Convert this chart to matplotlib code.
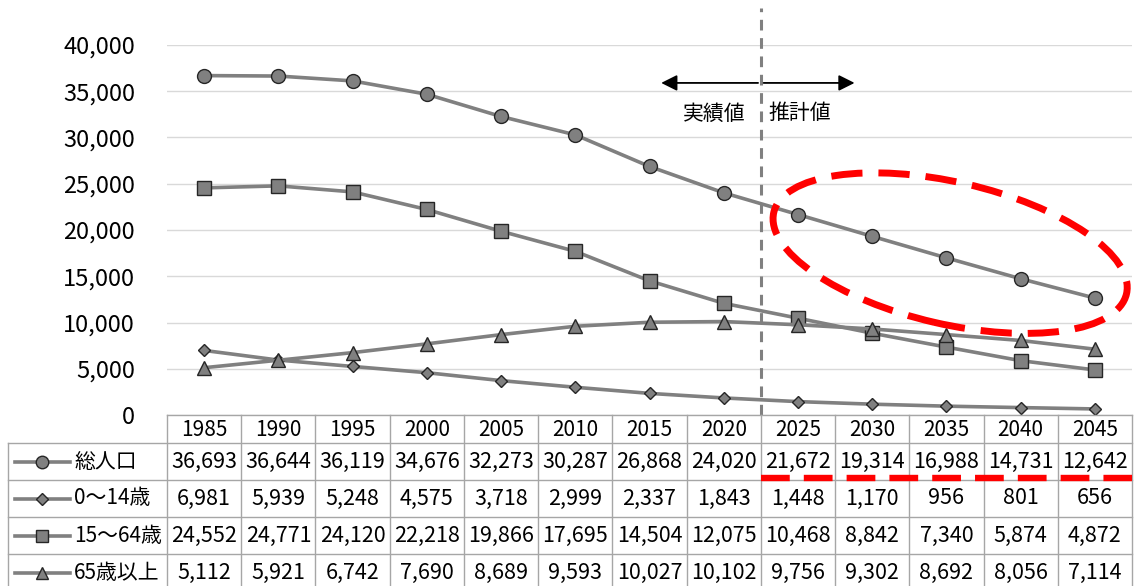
import numpy as np
import matplotlib
matplotlib.use('Agg')
import matplotlib.pyplot as plt
from matplotlib.patches import Ellipse
from matplotlib.transforms import blended_transform_factory

plt.rcParams['font.family'] = ['Liberation Sans Narrow', 'Noto Sans CJK JP', 'DejaVu Sans']

# ── data ──────────────────────────────────────────────────────────────
YEARS = [1985, 1990, 1995, 2000, 2005, 2010, 2015, 2020, 2025, 2030, 2035, 2040, 2045]
NAMES = ['総人口', '0～14歳', '15～64歳', '65歳以上']
TOTAL = [36693, 36644, 36119, 34676, 32273, 30287, 26868, 24020, 21672, 19314, 16988, 14731, 12642]
AGE_0_14 = [6981, 5939, 5248, 4575, 3718, 2999, 2337, 1843, 1448, 1170, 956, 801, 656]
AGE_15_64 = [24552, 24771, 24120, 22218, 19866, 17695, 14504, 12075, 10468, 8842, 7340, 5874, 4872]
AGE_65 = [5112, 5921, 6742, 7690, 8689, 9593, 10027, 10102, 9756, 9302, 8692, 8056, 7114]
Y_TICKS = [0, 5000, 10000, 15000, 20000, 25000, 30000, 35000, 40000]

SERIES = [TOTAL, AGE_0_14, AGE_15_64, AGE_65]
MARKERS = [('o', 10), ('D', 6.5), ('s', 9.5), ('^', 9.5)]
GRAY = '#808080'
EDGE = '#262626'

W, H = 1144, 586
fig = plt.figure(figsize=(W / 100, H / 100), dpi=100)

# main axes
ax = fig.add_axes([167 / W, (H - 415) / H, 965 / W, 370 / H])
# overlay in pixel units (origin bottom-left)
ov = fig.add_axes([0, 0, 1, 1])
ov.set_xlim(0, W)
ov.set_ylim(0, H)
ov.axis('off')
ov.set_zorder(5)

x = np.arange(len(YEARS))
for vals, (mk, ms) in zip(SERIES, MARKERS):
    ax.plot(x, vals, color=GRAY, lw=2.6, marker=mk, markersize=ms,
            markerfacecolor=GRAY, markeredgecolor=EDGE, markeredgewidth=1.0, zorder=3)

ax.set_xlim(-0.5, len(YEARS) - 0.5)
ax.set_ylim(0, 40000)
ax.set_yticks(Y_TICKS)
ax.set_yticklabels([f'{v:,}' for v in Y_TICKS])
ax.set_xticks([])
ax.tick_params(axis='y', length=0, pad=23, labelsize=17)
ax.grid(axis='y', color='#d9d9d9', lw=1.0)
ax.set_axisbelow(True)
for s in ax.spines.values():
    s.set_visible(False)

# actual / projection divider
split = 7.5
ax.plot([split, split], [0, 44000], color=GRAY, lw=2.2, ls=(0, (3.5, 2.5)),
        clip_on=False, zorder=2)
ax.annotate('', xy=(6.12, 35900), xytext=(split, 35900),
            arrowprops=dict(arrowstyle='-|>', color='black', lw=1.3, mutation_scale=24))
ax.annotate('', xy=(8.80, 35900), xytext=(split, 35900),
            arrowprops=dict(arrowstyle='-|>', color='black', lw=1.3, mutation_scale=24))
ax.text(split - 0.2, 32600, '実績値', ha='right', va='center', fontsize=15,
        family=['Noto Sans CJK JP'])
ax.text(split + 0.1, 32600, '推計値', ha='left', va='center', fontsize=15,
        family=['Noto Sans CJK JP'])

# ── data table under the chart ────────────────────────────────────────
fig.canvas.draw()
tr = blended_transform_factory(ax.transData, ov.transData)
lab_left = ax.transData.inverted().transform((8, 0))[0]
row_edges = [415, 443, 480, 517, 554, 592]  # pixel rows from top
line_kw = dict(color='#a6a6a6', lw=1.0, transform=tr, clip_on=False)

ov.plot([-0.5, len(YEARS) - 0.5], [H - 415, H - 415], **line_kw)
for e in row_edges[1:]:
    ov.plot([lab_left, len(YEARS) - 0.5], [H - e, H - e], **line_kw)
for i in range(len(YEARS) + 1):
    ov.plot([i - 0.5, i - 0.5], [H - 415, H - 592], **line_kw)
ov.plot([lab_left, lab_left], [H - 443, H - 592], **line_kw)

for i, yr in enumerate(YEARS):
    ov.text(i, H - 430, str(yr), transform=tr, ha='center', va='center', fontsize=15)

for r, (name, vals, (mk, ms)) in enumerate(zip(NAMES, SERIES, MARKERS)):
    yc = H - (row_edges[r + 1] + row_edges[r + 2]) / 2
    ov.plot([15, 70], [yc, yc], color=GRAY, lw=2.6)
    ov.plot([42], [yc], marker=mk, markersize=ms * 0.9, color=GRAY,
            markerfacecolor=GRAY, markeredgecolor=EDGE, markeredgewidth=1.0)
    ov.text(74, yc, name, ha='left', va='center', fontsize=15,
            family=['Noto Sans CJK JP', 'DejaVu Sans'])
    for i, v in enumerate(vals):
        ov.text(i, yc, f'{v:,}', transform=tr, ha='center', va='center', fontsize=15.5)

# ── red highlights ───────────────────────────────────────────────────
cx, cy = ax.transData.transform((10.05, 17500))
ov.add_patch(Ellipse((cx, cy), width=362, height=142, angle=-13, fill=False,
                     ec='#ff0000', lw=5, ls=(0, (4.5, 2.3)), zorder=6))
ov.plot([split, len(YEARS) - 0.5], [H - 478, H - 478], transform=tr, clip_on=False,
        color='#ff0000', lw=4.6, ls=(0, (4.5, 2.2)), solid_capstyle='butt', zorder=6)

fig.savefig('out.png', dpi=100)
